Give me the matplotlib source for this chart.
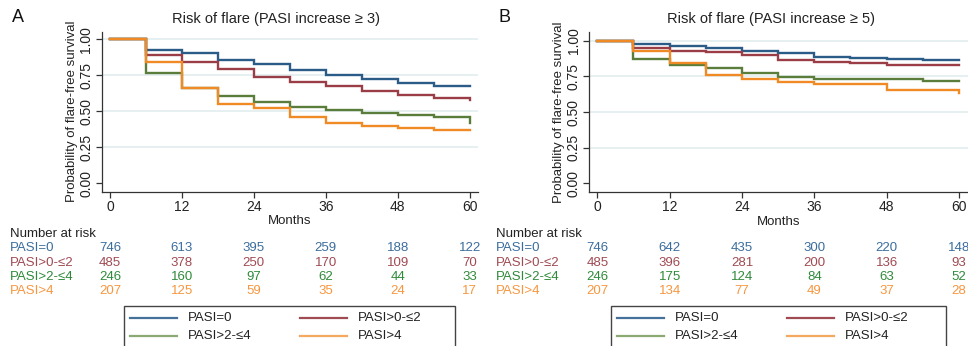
import matplotlib
matplotlib.use("Agg")
import matplotlib.pyplot as plt
from matplotlib.transforms import blended_transform_factory
from matplotlib.patches import Rectangle
from matplotlib.lines import Line2D

plt.rcParams['font.family'] = ['Liberation Sans', 'DejaVu Sans']

months = [0, 6, 12, 18, 24, 30, 36, 42, 48, 54, 60]
groups = ["PASI=0", "PASI>0-≤2", "PASI>2-≤4", "PASI>4"]
line_colors = ["#2b5b87", "#9b3d47", "#5a7d3c", "#f08a24"]
text_colors = ["#3b6d9c", "#a04a52", "#2f8a3a", "#f7963f"]
legend_colors = ["#44709a", "#a04a52", "#8aaa72", "#f5a860"]

# Panel A: PASI increase >= 3
surv_a = {
    "PASI=0":     [1.0, 0.926, 0.903, 0.856, 0.826, 0.787, 0.752, 0.722, 0.699, 0.676, 0.676],
    "PASI>0-≤2":  [1.0, 0.891, 0.845, 0.794, 0.741, 0.706, 0.678, 0.644, 0.613, 0.595, 0.579],
    "PASI>2-≤4":  [1.0, 0.769, 0.664, 0.606, 0.562, 0.528, 0.507, 0.486, 0.477, 0.463, 0.421],
    "PASI>4":     [1.0, 0.843, 0.664, 0.549, 0.525, 0.458, 0.417, 0.400, 0.387, 0.368, 0.368],
}
# Panel B: PASI increase >= 5
surv_b = {
    "PASI=0":     [1.0, 0.974, 0.965, 0.946, 0.930, 0.911, 0.888, 0.876, 0.871, 0.864, 0.864],
    "PASI>0-≤2":  [1.0, 0.946, 0.930, 0.918, 0.900, 0.862, 0.850, 0.846, 0.829, 0.829, 0.829],
    "PASI>2-≤4":  [1.0, 0.871, 0.829, 0.806, 0.771, 0.748, 0.729, 0.729, 0.729, 0.717, 0.717],
    "PASI>4":     [1.0, 0.928, 0.841, 0.759, 0.731, 0.708, 0.694, 0.694, 0.654, 0.654, 0.631],
}

risk_months = [0, 12, 24, 36, 48, 60]
risk_a = {
    "PASI=0":    [746, 613, 395, 259, 188, 122],
    "PASI>0-≤2": [485, 378, 250, 170, 109, 70],
    "PASI>2-≤4": [246, 160, 97, 62, 44, 33],
    "PASI>4":    [207, 125, 59, 35, 24, 17],
}
risk_b = {
    "PASI=0":    [746, 642, 435, 300, 220, 148],
    "PASI>0-≤2": [485, 396, 281, 200, 136, 93],
    "PASI>2-≤4": [246, 175, 124, 84, 63, 52],
    "PASI>4":    [207, 134, 77, 49, 37, 28],
}

W, H = 968, 346
fig = plt.figure(figsize=(W / 100, H / 100), dpi=100)
fig.patch.set_facecolor("white")


def fx(px):
    return px / W


def fy(py):
    return 1 - py / H


def panel(letter, title, surv, risk, left, right, top, bottom, xlim, ylim,
          title_x, letter_x, label_x, legend_box):
    ax = fig.add_axes([fx(left), fy(bottom), fx(right - left), (bottom - top) / H])
    for g, c in zip(groups, line_colors):
        ax.step(months, surv[g], where="post", color=c, lw=1.7, zorder=3,
                solid_joinstyle="miter")
    ax.set_xlim(*xlim)
    ax.set_ylim(*ylim)
    ax.set_xticks(risk_months)
    ax.set_yticks([0, 0.25, 0.5, 0.75, 1.0])
    ax.set_yticklabels(["0.00", "0.25", "0.50", "0.75", "1.00"], rotation=90,
                       va="center")
    for yv in [0.25, 0.5, 0.75, 1.0]:
        ax.axhline(yv, color="#e2eeef", lw=1.2, zorder=1)
    for s in ["top", "right"]:
        ax.spines[s].set_visible(False)
    for s in ["left", "bottom"]:
        ax.spines[s].set_color("#333333")
        ax.spines[s].set_linewidth(0.9)
    ax.tick_params(axis="both", direction="out", length=4, width=0.9,
                   color="#333333", labelsize=10, labelcolor="#222222", pad=2)
    ax.set_xlabel("Months", fontsize=9.5, labelpad=1, color="#222222")
    ax.set_ylabel("Probability of flare-free survival", fontsize=9.5,
                  labelpad=1, color="#222222")
    fig.text(fx(title_x), fy(19), title, ha="center", va="center",
             fontsize=10.5, color="#222222")
    fig.text(fx(letter_x), fy(18), letter, ha="center", va="center",
             fontsize=13, color="#111111")

    # Number at risk table
    fig.text(fx(label_x), fy(234), "Number at risk", ha="left", va="center",
             fontsize=9.5, color="#222222")
    tr = blended_transform_factory(ax.transData, fig.transFigure)
    row_y = [248, 262.5, 277, 291.5]
    for g, c, ry in zip(groups, text_colors, row_y):
        fig.text(fx(label_x), fy(ry), g, ha="left", va="center",
                 fontsize=9.5, color=c)
        for m, n in zip(risk_months, risk[g]):
            ax.text(m, fy(ry), str(n), transform=tr, ha="center",
                    va="center", fontsize=9.5, color=c, clip_on=False)

    # Legend box
    lx0, lx1, ly0 = legend_box
    fig.patches.append(Rectangle((fx(lx0), fy(352)), fx(lx1 - lx0),
                                 (352 - ly0) / H, transform=fig.transFigure,
                                 facecolor="white", edgecolor="#444444",
                                 lw=1.0, zorder=5))
    cols = [lx0 + 6, lx0 + 176]
    rows = [318, 336]
    for i, (g, c) in enumerate(zip(groups, legend_colors)):
        cx = cols[i % 2]
        ry = rows[i // 2]
        fig.lines.append(Line2D([fx(cx), fx(cx + 47)], [fy(ry), fy(ry)],
                                transform=fig.transFigure, color=c, lw=1.6,
                                zorder=6))
        fig.text(fx(cx + 58), fy(ry), g, ha="left", va="center",
                 fontsize=9.5, color="#222222", zorder=6)
    return ax


panel("A", "Risk of flare (PASI increase \u2265 3)", surv_a, risk_a,
      left=101.7, right=478, top=31.7, bottom=191.7,
      xlim=(-1.39, 61.4), ylim=(-0.058, 1.053),
      title_x=276, letter_x=18, label_x=10, legend_box=(124, 455, 306))
panel("B", "Risk of flare (PASI increase \u2265 5)", surv_b, risk_b,
      left=589, right=968, top=32.3, bottom=192,
      xlim=(-1.38, 61.5), ylim=(-0.061, 1.059),
      title_x=771, letter_x=504, label_x=496, legend_box=(611, 946, 306))

fig.savefig("out.png", dpi=100, facecolor="white")
